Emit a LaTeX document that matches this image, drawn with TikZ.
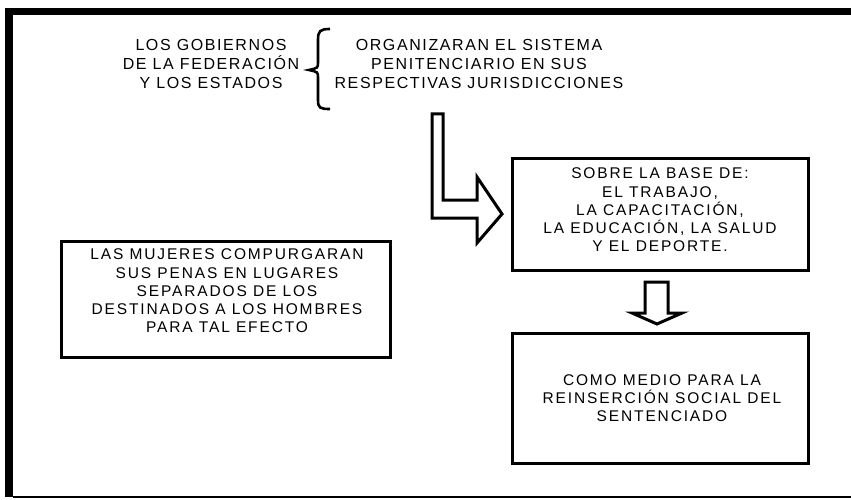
\documentclass[tikz,border=0pt]{standalone}
\usepackage{fontspec}
\setmainfont{Liberation Sans}
\newfontfamily\boxfont{Liberation Sans}[LetterSpace=12]
\newfontfamily\topfont{Liberation Sans}[LetterSpace=10]
\begin{document}
\begin{tikzpicture}[x=1pt,y=-1pt,
  box/.style={draw, line width=3pt, rectangle, inner sep=0pt},
  txt/.style={align=center, inner sep=0pt, font=\boxfont\fontsize{15.5}{18.3}\selectfont},
  toptxt/.style={align=center, inner sep=0pt, font=\topfont\fontsize{16}{19}\selectfont},
  outline/.style={draw, line width=3pt, line join=miter, miter limit=20}]
\useasboundingbox (0,0) rectangle (851,500);
% frame
\fill (5,8) rectangle (851,15);
\fill (5,8) rectangle (13,497);
\draw[line width=1.5pt] (13,497) -- (851,497);
% top texts
\node[toptxt] (gob) at (211,64) {LOS GOBIERNOS\\DE LA FEDERACIÓN\\Y LOS ESTADOS};
\node[toptxt] (org) at (479,64) {ORGANIZARAN EL SISTEMA\\PENITENCIARIO EN SUS\\RESPECTIVAS JURISDICCIONES};
% brace
\draw[line width=2.6pt] (330,29) .. controls (320,29) and (318,31) .. (318,40) -- (318,62)
  .. controls (318,68) .. (309,70) .. controls (318,72) .. (318,78) -- (318,100)
  .. controls (318,108) and (320,109) .. (330,109);
% boxes
\node[box, minimum width=296pt, minimum height=112pt] (b2) at (660,214) {};
\node[txt] (t2) at (660,210) {SOBRE LA BASE DE:\\EL TRABAJO,\\LA CAPACITACIÓN,\\LA EDUCACIÓN, LA SALUD\\Y EL DEPORTE.};
\node[box, minimum width=296pt, minimum height=130pt] (b3) at (660,398) {};
\node[txt] (t3) at (662,398) {COMO MEDIO PARA LA\\REINSERCIÓN SOCIAL DEL\\SENTENCIADO};
\node[box, minimum width=329pt, minimum height=116pt] (b1) at (225.5,299) {};
\node[txt] (t1) at (227,291) {LAS MUJERES COMPURGARAN\\SUS PENAS EN LUGARES\\SEPARADOS DE LOS\\DESTINADOS A LOS HOMBRES\\PARA TAL EFECTO};
% arrows
\draw[outline] (432,114) -- (432,218) -- (477,218) -- (477,243) -- (502,214) -- (477,177) -- (477,200) -- (443,200) -- (443,114) -- cycle;
\draw[outline] (645,282) -- (645,313) -- (632,313) -- (657,324) -- (682,313) -- (668,313) -- (668,282) -- cycle;
\end{tikzpicture}
\end{document}
